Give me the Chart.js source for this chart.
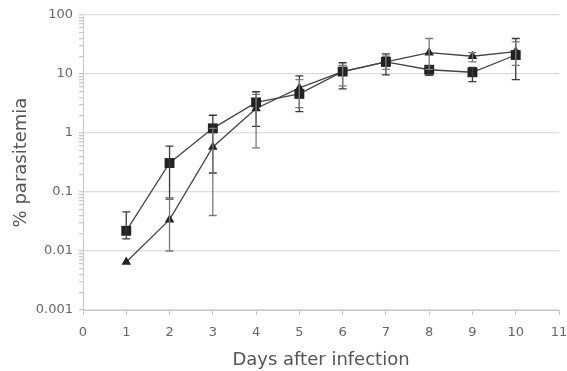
<!DOCTYPE html>
<html>
<head>
<meta charset="UTF-8" />
<script src="https://cdn.jsdelivr.net/npm/chart.js@4"></script>
<style>
  html, body { margin: 0; padding: 0; background: #fff; }
  #wrap { width: 567px; height: 371px; position: relative; }
</style>
</head>
<body>
<div id="wrap"><canvas id="chart"></canvas></div>
<script>
// Days after infection
const days = [1, 2, 3, 4, 5, 6, 7, 8, 9, 10];

// Squares series (% parasitemia) and its error range
const squareVals = [0.022, 0.31, 1.2, 3.3, 4.6, 11, 16, 11.8, 10.7, 21];
const squareLow  = [0.016, 0.076, 0.21, 1.3, 2.3, 5.6, 9.7, 9.5, 7.4, 8];
const squareHigh = [0.046, 0.6, 2.0, 5.0, 9.3, 15.5, 22, 13.5, 13, 40];

// Triangles series and its error range
const triVals = [0.0065, 0.034, 0.58, 2.6, 5.8, 11, 16, 23, 20, 24];
const triLow  = [0.0065, 0.01, 0.04, 0.56, 2.7, 6.3, 12, 12, 16, 14];
const triHigh = [0.0065, 0.08, 1.2, 4.5, 8, 14, 20, 40, 23, 35];

const yDecades = [0.001, 0.01, 0.1, 1, 10, 100];
const xTicks = [0, 1, 2, 3, 4, 5, 6, 7, 8, 9, 10, 11];

const FONT = 'DejaVu Sans';
const TICK_TEXT = '#666';
const TITLE_TEXT = '#555';

function pts(vals) {
  return days.map((d, i) => ({ x: d, y: vals[i] }));
}

// draws vertical error bars with caps using the chart's own scales
const errorBars = {
  id: 'errorBars',
  afterDatasetsDraw(chart) {
    const ctx = chart.ctx;
    const y = chart.scales.y;
    chart.data.datasets.forEach((ds, di) => {
      const meta = chart.getDatasetMeta(di);
      ctx.save();
      ctx.strokeStyle = ds.errColor;
      ctx.lineWidth = 1.3;
      meta.data.forEach((el, i) => {
        const lo = y.getPixelForValue(ds.low[i]);
        const hi = y.getPixelForValue(ds.high[i]);
        if (Math.abs(lo - hi) < 1) return;
        ctx.beginPath();
        ctx.moveTo(el.x, lo); ctx.lineTo(el.x, hi);
        ctx.moveTo(el.x - 4, lo); ctx.lineTo(el.x + 4, lo);
        ctx.moveTo(el.x - 4, hi); ctx.lineTo(el.x + 4, hi);
        ctx.stroke();
      });
      ctx.restore();
    });
  },
};

new Chart(document.getElementById('chart'), {
  type: 'line',
  data: {
    datasets: [
      {
        label: 'squares',
        data: pts(squareVals),
        low: squareLow,
        high: squareHigh,
        errColor: '#3a3a3a',
        borderColor: '#444',
        borderWidth: 1.3,
        pointStyle: 'rect',
        pointRadius: 7,
        pointBackgroundColor: '#222',
        pointBorderColor: '#222',
        pointBorderWidth: 0,
        tension: 0,
      },
      {
        label: 'triangles',
        data: pts(triVals),
        low: triLow,
        high: triHigh,
        errColor: '#7a7a7a',
        borderColor: '#444',
        borderWidth: 1.3,
        pointStyle: 'triangle',
        pointRadius: 5.5,
        pointBackgroundColor: '#222',
        pointBorderColor: '#222',
        pointBorderWidth: 0,
        tension: 0,
      },
    ],
  },
  options: {
    responsive: true,
    maintainAspectRatio: false,
    animation: false,
    layout: { padding: { top: 15, right: 8, left: 0, bottom: 0 } },
    plugins: { legend: { display: false }, tooltip: { enabled: false } },
    scales: {
      x: {
        type: 'linear',
        min: 0,
        max: 11,
        afterBuildTicks: (s) => { s.ticks = xTicks.map((v) => ({ value: v })); },
        afterFit: (s) => { s.height = 61; s.paddingRight = 0; s.paddingLeft = 0; },
        grid: { display: true, drawOnChartArea: false, color: '#c8c8c8', tickLength: 5 },
        border: { color: '#c8c8c8' },
        ticks: { color: TICK_TEXT, font: { family: FONT, size: 13 }, padding: 10, autoSkip: false, maxRotation: 0 },
        title: {
          display: true,
          text: 'Days after infection',
          color: TITLE_TEXT,
          font: { family: FONT, size: 18 },
          padding: { top: 0, bottom: 0 },
        },
      },
      y: {
        type: 'logarithmic',
        min: 0.001,
        max: 100,
        afterBuildTicks: (s) => {
          const t = [];
          yDecades.forEach((d, i) => {
            t.push({ value: d, major: true });
            if (i < yDecades.length - 1) {
              for (let k = 2; k <= 9; k++) t.push({ value: d * k, major: false });
            }
          });
          s.ticks = t;
        },
        afterFit: (s) => { s.width = 83; s.paddingTop = 0; s.paddingBottom = 0; },
        grid: {
          color: (c) => (c.tick && yDecades.includes(c.tick.value) ? '#dcdcdc' : 'rgba(0,0,0,0)'),
          tickColor: '#c8c8c8',
          tickLength: 4,
          lineWidth: 1.3,
        },
        border: { color: '#c8c8c8' },
        ticks: {
          color: TICK_TEXT,
          font: { family: FONT, size: 13 },
          padding: 6,
          autoSkip: false,
          callback: (v) => (yDecades.includes(v) ? String(v) : ''),
        },
        title: {
          display: true,
          text: '% parasitemia',
          color: TITLE_TEXT,
          font: { family: FONT, size: 18 },
          padding: { top: 11, bottom: 0 },
        },
      },
    },
  },
  plugins: [errorBars],
});
</script>
</body>
</html>
